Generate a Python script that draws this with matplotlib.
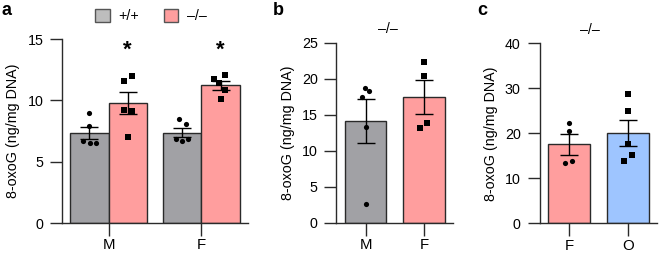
import numpy as np
import matplotlib
matplotlib.use('Agg')
import matplotlib.pyplot as plt
from matplotlib.patches import Patch
from matplotlib.transforms import blended_transform_factory

plt.rcParams['font.family'] = ['Liberation Sans', 'DejaVu Sans']
plt.rcParams['font.size'] = 10

# ---- data (ng/mg DNA) ----
a_groups = ['M', 'F']
a_wt = [[8.99, 7.9, 6.68, 6.54, 6.5],
        [8.47, 8.04, 6.84, 6.68, 6.84]]
a_ko = [[11.57, 11.98, 9.2, 9.13, 7.03],
        [11.73, 12.1, 11.38, 10.84, 10.1]]
a_sig = ['*', '*']

b_groups = ['M', 'F']
b_vals = [[17.5, 18.75, 18.33, 13.25, 2.6],
          [22.36, 20.4, 13.2, 13.9]]

c_groups = ['F', 'O']
c_vals = [[22.36, 20.5, 13.3, 13.9],
          [28.7, 25.0, 17.6, 15.2, 13.85]]

legend_labels = ['+/+', '\u2013/\u2013']
ko_title = '\u2013/\u2013'
ylabel = '8-oxoG (ng/mg DNA)'

# ---- style ----
GRAY = '#a1a1a5'
PINK = '#ff9e9e'
BLUE = '#9ec5ff'
EDGE = '#2a2a2a'
LW = 1.0
FS = 10.3

# horizontal jitter of the dots (data units)
a_wt_jit = [[0, 0, -0.065, 0.01, 0.075], [-0.034, 0.041, -0.07, 0.0, 0.056]]
a_ko_jit = [[-0.038, 0.045, -0.034, 0.045, 0.0], [-0.072, 0.043, -0.018, 0.046, 0.008]]
b_jit = [[-0.06, -0.01, 0.055, 0, 0], [0, 0, -0.065, 0.06]]
c_jit = [[0, 0, -0.064, 0.05], [0, 0, 0, 0.073, -0.063]]


def sem(v):
    v = np.asarray(v)
    return v.std(ddof=1) / np.sqrt(len(v))


def style_axis(ax, ymax, step):
    ax.spines['top'].set_visible(False)
    ax.spines['right'].set_visible(False)
    for s in ['left', 'bottom']:
        ax.spines[s].set_linewidth(LW)
        ax.spines[s].set_color(EDGE)
    ax.set_ylim(0, ymax)
    ax.set_yticks(np.arange(0, ymax + 0.1, step))
    ax.set_xlim(-0.5, 1.5)
    ax.tick_params(axis='both', length=9, width=LW, color=EDGE, labelsize=FS)
    ax.tick_params(axis='y', pad=4.5)
    ax.tick_params(axis='x', pad=2, labelsize=FS + 0.5)
    ax.set_ylabel(ylabel, fontsize=FS, labelpad=5)


def draw_bar(ax, x, vals, jit, color, marker, width):
    m = np.mean(vals)
    e = sem(vals)
    ax.bar(x, m, width=width, color=color, edgecolor=EDGE, linewidth=LW, zorder=1)
    ax.errorbar(x, m, yerr=e, fmt='none', ecolor='black', elinewidth=LW,
                capsize=6.5, capthick=LW, zorder=3)
    ax.scatter(np.array(jit) + x, vals, marker=marker, s=14, color='black',
               linewidths=0, zorder=4)


fig = plt.figure(figsize=(6.59, 2.54), dpi=100)

# panel a
axa = fig.add_axes([0.0941, 0.122, 0.2822, 0.7244])
w = 0.41
for i in range(len(a_groups)):
    draw_bar(axa, i - w / 2, a_wt[i], a_wt_jit[i], GRAY, 'o', w)
    draw_bar(axa, i + w / 2, a_ko[i], a_ko_jit[i], PINK, 's', w)
    axa.text(i + w / 2, 13.25, a_sig[i], ha='center', va='bottom',
             fontsize=16, fontweight='bold')
style_axis(axa, 15, 5)
axa.set_xticks(range(len(a_groups)))
axa.set_xticklabels(a_groups)
handles = [Patch(facecolor='#bdbdbd', edgecolor='#555555', linewidth=LW),
           Patch(facecolor=PINK, edgecolor='#555555', linewidth=LW)]
axa.legend(handles, legend_labels, ncol=2, frameon=False, loc='center',
           bbox_to_anchor=(0.478, 1.125), handlelength=1.0, handleheight=1.0,
           handletextpad=0.6, columnspacing=1.75, fontsize=FS, borderaxespad=0,
           borderpad=0)

# panel b
axb = fig.add_axes([0.5106, 0.1232, 0.1769, 0.7087])
for i, col in enumerate([GRAY, PINK]):
    draw_bar(axb, i, b_vals[i], b_jit[i], col, 'o' if i == 0 else 's', 0.71)
style_axis(axb, 25, 5)
axb.set_xticks(range(len(b_groups)))
axb.set_xticklabels(b_groups)
axb.text(0.38, 1.075, ko_title,
         transform=blended_transform_factory(axb.transData, axb.transAxes),
         ha='center', va='center', fontsize=FS)

# panel c
axc = fig.add_axes([0.8187, 0.1209, 0.179, 0.7087])
for i, col in enumerate([PINK, BLUE]):
    draw_bar(axc, i, c_vals[i], c_jit[i], col, 'o' if i == 0 else 's', 0.7)
style_axis(axc, 40, 10)
axc.set_xticks(range(len(c_groups)))
axc.set_xticklabels(c_groups)
axc.text(0.36, 1.075, ko_title,
         transform=blended_transform_factory(axc.transData, axc.transAxes),
         ha='center', va='center', fontsize=FS)

# panel letters
for xl, lab in [(0.002, 'a'), (0.414, 'b'), (0.724, 'c')]:
    fig.text(xl, 0.941, lab, fontsize=13, fontweight='bold', va='baseline')

fig.savefig('out.png', dpi=100)
